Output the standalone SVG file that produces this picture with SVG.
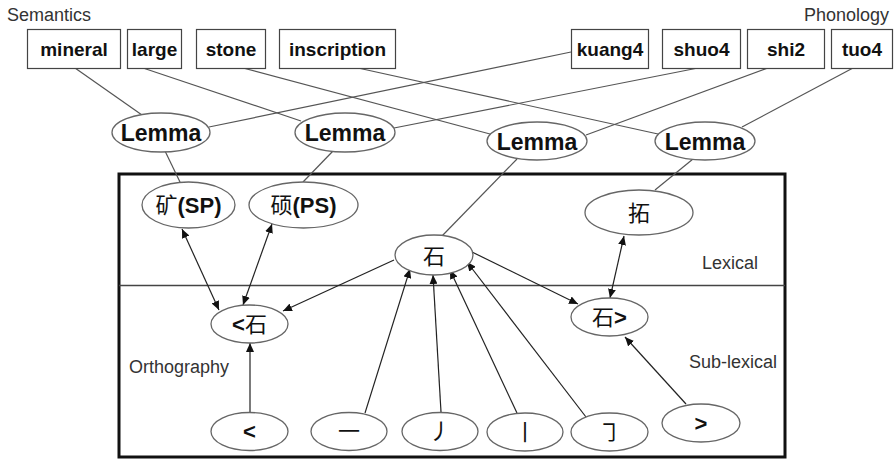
<svg xmlns="http://www.w3.org/2000/svg" width="895" height="459" viewBox="0 0 895 459">
<style>
  .lbl { font-family: "Liberation Sans", Arial, sans-serif; font-size: 18px; fill: #333; }
  .box rect { fill: #fff; stroke: #444; stroke-width: 1.2; }
  .box text { font-family: "Liberation Sans", Arial, sans-serif; font-weight: bold; font-size: 19px; fill: #111; text-anchor: middle; }
  .node ellipse { fill: #fff; stroke: #666; stroke-width: 1.3; }
  .node text { font-family: "Liberation Sans", Arial, "Noto Sans CJK SC", sans-serif; font-size: 22px; fill: #111; text-anchor: middle; }
  .lemma text { font-weight: bold; font-size: 23px; }
  .b { font-weight: bold; }
  .cjk { font-family: "Noto Sans CJK SC", sans-serif; font-weight: normal; }
  .plain line { stroke: #555; stroke-width: 1.2; }
  .arrow line { stroke: #222; stroke-width: 1.2; }
</style>
<defs>
  <marker id="ah" markerUnits="userSpaceOnUse" markerWidth="10" markerHeight="8" refX="9" refY="4" orient="auto-start-reverse">
    <path d="M0,0 L9,4 L0,8 Z" fill="#111"/>
  </marker>
</defs>
<rect width="895" height="459" fill="#fff"/>

<!-- frame -->
<rect x="119" y="174" width="666" height="283" fill="none" stroke="#111" stroke-width="3"/>
<line x1="119" y1="285.5" x2="785" y2="285.5" stroke="#444" stroke-width="1.5"/>

<!-- section labels -->
<text class="lbl" x="7" y="21">Semantics</text>
<text class="lbl" x="889" y="21" text-anchor="end">Phonology</text>
<text class="lbl" x="702" y="269">Lexical</text>
<text class="lbl" x="689" y="368">Sub-lexical</text>
<text class="lbl" x="129" y="373">Orthography</text>

<!-- connectors -->
<g id="connectors">
  <g class="plain">
    <line x1="75" y1="68" x2="142" y2="115"/>
    <line x1="143" y1="68" x2="301" y2="121"/>
    <line x1="243" y1="68" x2="490" y2="134"/>
    <line x1="358" y1="68" x2="658" y2="134"/>
    <line x1="571" y1="52" x2="209" y2="127"/>
    <line x1="698" y1="68" x2="394" y2="128"/>
    <line x1="768" y1="68" x2="586" y2="135"/>
    <line x1="853" y1="68" x2="742" y2="127"/>
    <line x1="165" y1="151" x2="180" y2="182"/>
    <line x1="333" y1="151" x2="303" y2="182"/>
    <line x1="517" y1="159" x2="442" y2="236"/>
    <line x1="693" y1="159" x2="655" y2="190"/>
  </g>
  <g class="arrow">
    <line x1="182" y1="229" x2="219" y2="310" marker-start="url(#ah)" marker-end="url(#ah)"/>
    <line x1="272" y1="224" x2="243" y2="305" marker-start="url(#ah)" marker-end="url(#ah)"/>
    <line x1="394" y1="260" x2="283" y2="311" marker-end="url(#ah)"/>
    <line x1="472" y1="252" x2="578" y2="304" marker-end="url(#ah)"/>
    <line x1="624" y1="236" x2="610" y2="298" marker-start="url(#ah)" marker-end="url(#ah)"/>
    <line x1="250" y1="412" x2="250" y2="343" marker-end="url(#ah)"/>
    <line x1="365" y1="413" x2="410" y2="269" marker-end="url(#ah)"/>
    <line x1="441" y1="412" x2="433" y2="275" marker-end="url(#ah)"/>
    <line x1="517" y1="413" x2="450" y2="270" marker-end="url(#ah)"/>
    <line x1="586" y1="417" x2="467" y2="262" marker-end="url(#ah)"/>
    <line x1="686" y1="404" x2="625" y2="337" marker-end="url(#ah)"/>
  </g>
</g>

<!-- semantic boxes -->
<g id="mineral" class="box"><rect x="27.5" y="29.5" width="93" height="39"/><text x="74" y="56">mineral</text></g>
<g id="large" class="box"><rect x="127.5" y="29.5" width="54" height="39"/><text x="154.5" y="56">large</text></g>
<g id="stone" class="box"><rect x="196.5" y="29.5" width="69" height="39"/><text x="231" y="56">stone</text></g>
<g id="inscription" class="box"><rect x="279.5" y="29.5" width="116" height="39"/><text x="337.5" y="56">inscription</text></g>

<!-- phonology boxes -->
<g id="kuang4" class="box"><rect x="571.5" y="29.5" width="77" height="39"/><text x="610" y="56">kuang4</text></g>
<g id="shuo4" class="box"><rect x="662.5" y="29.5" width="78" height="39"/><text x="701.5" y="56">shuo4</text></g>
<g id="shi2" class="box"><rect x="747.5" y="29.5" width="77" height="39"/><text x="786" y="56">shi2</text></g>
<g id="tuo4" class="box"><rect x="831.5" y="29.5" width="61" height="39"/><text x="862" y="56">tuo4</text></g>

<!-- lemmas -->
<g id="lemma1" class="node lemma"><ellipse cx="161" cy="132.5" rx="49" ry="19.5"/><text x="161" y="141">Lemma</text></g>
<g id="lemma2" class="node lemma"><ellipse cx="345" cy="132.5" rx="50" ry="19.5"/><text x="345" y="141">Lemma</text></g>
<g id="lemma3" class="node lemma"><ellipse cx="537" cy="141" rx="50" ry="19"/><text x="537" y="149.5">Lemma</text></g>
<g id="lemma4" class="node lemma"><ellipse cx="705" cy="141" rx="50" ry="19"/><text x="705" y="149.5">Lemma</text></g>

<!-- lexical -->
<g id="kuang-SP" class="node"><ellipse cx="188.5" cy="205" rx="46.5" ry="23"/><text x="188.5" y="213"><tspan class="cjk">矿</tspan><tspan class="b">(SP)</tspan></text></g>
<g id="shuo-PS" class="node"><ellipse cx="303.5" cy="205" rx="54.5" ry="23"/><text x="303.5" y="213"><tspan class="cjk">硕</tspan><tspan class="b">(PS)</tspan></text></g>
<g id="tuo" class="node"><ellipse cx="639" cy="212.5" rx="54" ry="22.5"/><text class="cjk" x="639" y="221" font-size="24">拓</text></g>
<g id="shi" class="node"><ellipse cx="434" cy="255" rx="39" ry="20"/><text class="cjk" x="434" y="264" font-size="23">石</text></g>

<!-- sub-lexical -->
<g id="lt-shi" class="node"><ellipse cx="249.5" cy="324" rx="38.5" ry="19"/><text x="249.5" y="332"><tspan class="b">&lt;</tspan><tspan class="cjk">石</tspan></text></g>
<g id="shi-gt" class="node"><ellipse cx="609.5" cy="317" rx="38.5" ry="19"/><text x="609.5" y="325"><tspan class="cjk">石</tspan><tspan class="b">&gt;</tspan></text></g>

<!-- strokes -->
<g id="lt" class="node"><ellipse cx="249.5" cy="431.5" rx="38.5" ry="19"/><text class="b" x="249.5" y="439">&lt;</text></g>
<g id="heng" class="node"><ellipse cx="349" cy="431.5" rx="38" ry="19"/><text class="cjk" x="349" y="439">一</text></g>
<g id="pie" class="node"><ellipse cx="440" cy="431.5" rx="38" ry="19"/><text class="cjk" x="440" y="439">丿</text></g>
<g id="shu" class="node"><ellipse cx="525" cy="432" rx="38" ry="19"/><text class="cjk" x="525" y="440">丨</text></g>
<g id="hengzhegou" class="node"><ellipse cx="609.5" cy="432" rx="38.5" ry="19"/><text class="cjk" x="609.5" y="440">㇆</text></g>
<g id="gt" class="node"><ellipse cx="701" cy="423" rx="39" ry="19"/><text class="b" x="701" y="431">&gt;</text></g>
</svg>
